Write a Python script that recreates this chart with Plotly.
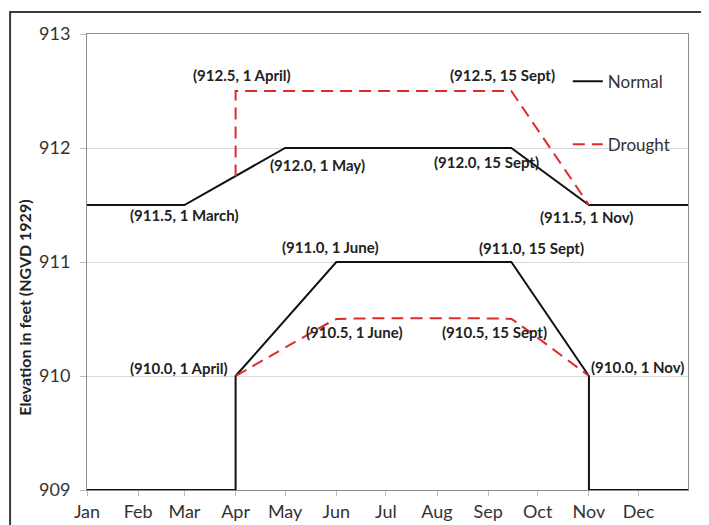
import plotly.graph_objects as go

# ---- data ----
normal_upper_dates = ["2023-01-01", "2023-03-01", "2023-05-01", "2023-09-15", "2023-11-01", "2023-12-31"]
normal_upper_elev = [911.5, 911.5, 912.0, 912.0, 911.5, 911.5]

normal_lower_dates = ["2023-01-01", "2023-04-01", "2023-04-01", "2023-06-01", "2023-09-15", "2023-11-01", "2023-11-01", "2023-12-31"]
normal_lower_elev = [909.0, 909.0, 910.0, 911.0, 911.0, 910.0, 909.0, 909.0]

drought_upper_dates = ["2023-04-01", "2023-04-01", "2023-09-15", "2023-11-01"]
drought_upper_elev = [911.75, 912.5, 912.5, 911.5]

drought_lower_dates = ["2023-04-01", "2023-06-01", "2023-09-15", "2023-11-01"]
drought_lower_elev = [910.0, 910.5, 910.5, 910.0]

label_dates = ["2023-04-01", "2023-09-15", "2023-03-01", "2023-05-01", "2023-09-15", "2023-11-01",
               "2023-06-01", "2023-09-15", "2023-04-01", "2023-06-01", "2023-09-15", "2023-11-01"]
label_elev = [912.5, 912.5, 911.5, 912.0, 912.0, 911.5, 911.0, 911.0, 910.0, 910.5, 910.5, 910.0]
label_text = ["(912.5, 1 April)", "(912.5, 15 Sept)", "(911.5, 1 March)", "(912.0, 1 May)",
              "(912.0, 15 Sept)", "(911.5, 1 Nov)", "(911.0, 1 June)", "(911.0, 15 Sept)",
              "(910.0, 1 April)", "(910.5, 1 June)", "(910.5, 15 Sept)", "(910.0, 1 Nov)"]
label_xshift = [6, -9, 0, 32, -25, -2, -6, 20, -6, 18, -17, 0]
label_yshift = [16, 16, -10, -17, -14, -12, 15, 14, 8, -13, -13, 9]
label_xanchor = ["center"] * 8 + ["right", "center", "center", "left"]

month_ticks = ["2023-%02d-01" % m for m in range(1, 13)]
month_labels = ["Jan", "Feb", "Mar", "Apr", "May", "Jun", "Jul", "Aug", "Sep", "Oct", "Nov", "Dec"]
y_ticks = [909, 910, 911, 912, 913]

BLACK = "#111111"
RED = "#e02a2a"
FONT = "Lato"

fig = go.Figure()
fig.add_trace(go.Scatter(x=normal_upper_dates, y=normal_upper_elev, mode="lines",
                         line=dict(color=BLACK, width=2), name="Normal", legendgroup="n"))
fig.add_trace(go.Scatter(x=normal_lower_dates, y=normal_lower_elev, mode="lines",
                         line=dict(color=BLACK, width=2), name="Normal", legendgroup="n", showlegend=False))
fig.add_trace(go.Scatter(x=drought_upper_dates, y=drought_upper_elev, mode="lines",
                         line=dict(color=RED, width=2, dash="12px,7px"),
                         name="Drought", legendgroup="d"))
fig.add_trace(go.Scatter(x=drought_lower_dates, y=drought_lower_elev, mode="lines",
                         line=dict(color=RED, width=2, dash="12px,7px", shape="spline", smoothing=0.08),
                         name="Drought", legendgroup="d", showlegend=False))

for d, e, t, xs, ys, xa in zip(label_dates, label_elev, label_text, label_xshift, label_yshift, label_xanchor):
    fig.add_annotation(x=d, y=e, text="<b>" + t + "</b>", showarrow=False, xshift=xs, yshift=ys, xanchor=xa,
                       font=dict(family=FONT, size=15, color="#222222"))

fig.add_annotation(xref="paper", yref="paper", x=-0.103, y=0.40, xanchor="center", yanchor="middle",
                   text="<b>Elevation in feet (NGVD 1929)</b>",
                   textangle=-90, showarrow=False, font=dict(family=FONT, size=16, color="#222222"))

# outer frame
fig.add_shape(type="rect", xref="paper", yref="paper", x0=-0.128, y0=-0.3, x1=1.2, y1=1.048,
              line=dict(color="#3a3a3a", width=2), layer="below")

fig.update_xaxes(type="date", range=["2023-01-01", "2023-12-31"], tickvals=month_ticks, ticktext=month_labels,
                 showgrid=False, showline=True, linecolor="#8c8c8c", linewidth=1, mirror=True,
                 ticks="outside", ticklen=5, tickcolor="#bfbfbf", automargin=False,
                 tickfont=dict(family=FONT, size=18, color="#333333"), zeroline=False)
fig.update_yaxes(range=[909, 913], tickvals=y_ticks, showgrid=True, gridcolor="#d9d9d9", gridwidth=1,
                 showline=True, linecolor="#8c8c8c", linewidth=1, mirror=True,
                 ticks="outside", ticklen=6, tickcolor="#bfbfbf", automargin=False, ticklabelstandoff=6,
                 tickfont=dict(family=FONT, size=18, color="#333333"), zeroline=False)

fig.update_layout(width=701, height=517, margin=dict(l=79, r=21, t=26, b=35, autoexpand=False),
                  paper_bgcolor="white", plot_bgcolor="white",
                  legend=dict(x=0.80, y=0.935, xanchor="left", yanchor="top", tracegroupgap=38,
                              bgcolor="rgba(0,0,0,0)", font=dict(family=FONT, size=17, color="#333333")),
                  showlegend=True)

fig.write_html("out.html")
